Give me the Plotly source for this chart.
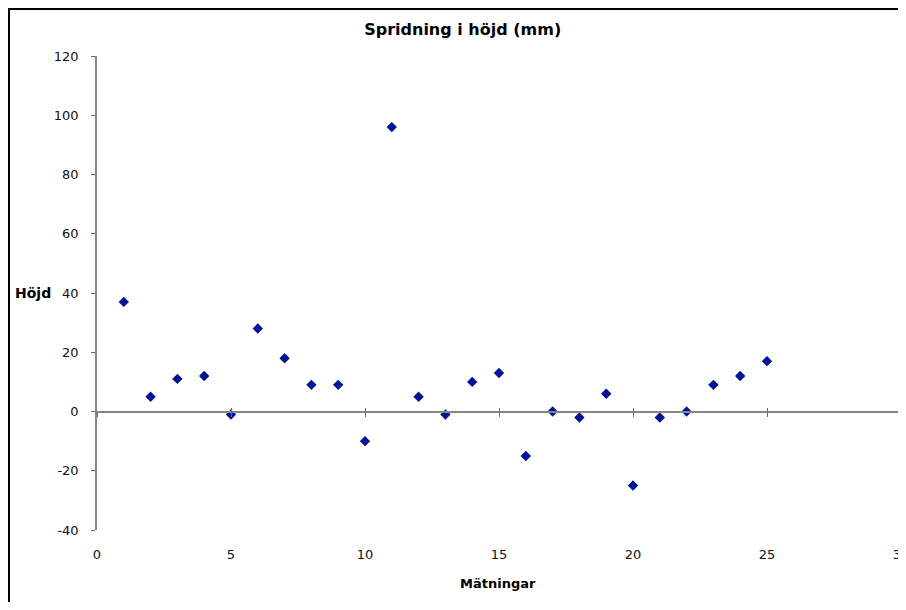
import plotly.graph_objects as go

matningar = list(range(1, 26))
hojd = [37, 5, 11, 12, -1, 28, 18, 9, 9, -10, 96, 5, -1, 10, 13, -15, 0, -2, 6, -25, -2, 0, 9, 12, 17]

x_ticks = [0, 5, 10, 15, 20, 25, 30]
x_tick_labels = ["0", "5", "10", "15", "20", "25", "30"]
y_ticks = [-40, -20, 0, 20, 40, 60, 80, 100, 120]
y_tick_labels = ["-40", "-20", "0", "20", "40", "60", "80", "100", "120"]

OFF = 8  # page body margin
W, H = 906 - OFF, 594
L, R, T = 97 - OFF, 5, 56 - OFF
B = H - (530 - OFF)
pw, ph = W - L - R, H - T - B

def px_x(page_px):
    return (page_px - OFF - L) / pw

def px_y(page_px):
    return (H - B - (page_px - OFF)) / ph

TICKFONT = "DejaVu Sans, Verdana, sans-serif"
AXCOL = "#868686"
MARK = "#001496"

fig = go.Figure()
fig.add_trace(go.Scatter(
    x=matningar, y=hojd, mode="markers",
    marker=dict(symbol="diamond", size=8, color=MARK, line=dict(width=0)),
    showlegend=False,
))
# ghost traces so the crossing-axis overlays are drawn
for ax in ("x2", "x3"):
    fig.add_trace(go.Scatter(x=[0, 30], y=[0, 0], xaxis=ax, mode="markers",
                             marker=dict(opacity=0), hoverinfo="skip", showlegend=False))

fig.update_layout(
    width=W, height=H,
    margin=dict(l=L, r=R, t=T, b=B, autoexpand=False),
    paper_bgcolor="white", plot_bgcolor="white",
    font=dict(family=TICKFONT, size=13, color="#111"),
    title=dict(text="<b>Spridning i höjd (mm)</b>", font=dict(size=16, color="#000"),
               xref="container", yref="container", x=(462.7 - OFF) / W, y=1 - (29 - OFF) / H,
               xanchor="center", yanchor="middle"),
    xaxis=dict(range=[0, 30], tickvals=x_ticks, ticktext=x_tick_labels, showline=False, ticks="",
               showgrid=False, zeroline=False, ticklabelstandoff=15, automargin=False,
               ticklabeloverflow="allow",
               tickfont=dict(size=13, color="#111")),
    xaxis2=dict(range=[0, 30], tickvals=x_ticks, overlaying="x", anchor="free",
                position=0.25, showline=True, linecolor=AXCOL, linewidth=2,
                ticks="outside", ticklen=4, tickwidth=1, tickcolor="#666", automargin=False,
                showticklabels=False, showgrid=False, zeroline=False),
    xaxis3=dict(range=[0, 30], tickvals=x_ticks, overlaying="x", anchor="free",
                position=0.25, showline=False, automargin=False,
                ticks="inside", ticklen=4, tickwidth=1, tickcolor="#666",
                showticklabels=False, showgrid=False, zeroline=False),
    yaxis=dict(range=[-40, 120], tickvals=y_ticks, ticktext=y_tick_labels, showline=True,
               linecolor=AXCOL, automargin=False,
               linewidth=1.5, ticks="outside", ticklen=4, tickwidth=1, tickcolor="#666",
               showgrid=False, zeroline=False, ticklabelstandoff=10,
               tickfont=dict(size=13, color="#111")),
    annotations=[
        dict(text="<b>Höjd</b>", xref="paper", yref="paper", x=px_x(13), y=px_y(293),
             xanchor="left", yanchor="middle", showarrow=False,
             font=dict(size=14, color="#000")),
        dict(text="<b>Mätningar</b>", xref="paper", yref="paper", x=px_x(498), y=px_y(583),
             xanchor="center", yanchor="middle", showarrow=False,
             font=dict(size=13, color="#000")),
    ],
    shapes=[
        dict(type="line", xref="paper", yref="paper",
             x0=px_x(OFF), x1=px_x(930), y0=px_y(OFF + 1), y1=px_y(OFF + 1),
             line=dict(color="#000", width=2), layer="above"),
        dict(type="line", xref="paper", yref="paper",
             x0=px_x(OFF + 1), x1=px_x(OFF + 1), y0=px_y(640), y1=px_y(OFF),
             line=dict(color="#000", width=2), layer="above"),
    ],
)

fig.write_html("out.html")
